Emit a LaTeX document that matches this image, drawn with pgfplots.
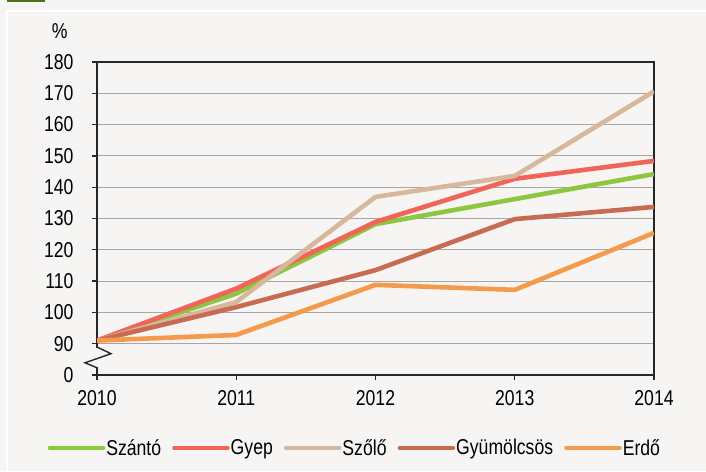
\documentclass[border=0pt]{standalone}
\usepackage{pgfplots}
\pgfplotsset{compat=1.18}
\usepackage{fontspec}
\setmainfont{Liberation Sans}[FakeStretch=0.82]
\definecolor{bg}{HTML}{F6F5F3}
\definecolor{topgreen}{HTML}{4B7319}
\definecolor{cSzanto}{HTML}{8DC63F}
\definecolor{cGyep}{HTML}{F0645A}
\definecolor{cSzolo}{HTML}{D8B89C}
\definecolor{cGyum}{HTML}{C86B53}
\definecolor{cErdo}{HTML}{F59A4B}
\definecolor{axc}{HTML}{262626}
\begin{document}
\begin{tikzpicture}[font=\fontsize{21.5}{25}\selectfont]
\fill[bg] (0pt,0pt) rectangle (706pt,471pt);
\useasboundingbox (0pt,0pt) rectangle (706pt,471pt);
\fill[topgreen] (7pt,469pt) rectangle (45pt,471pt);
\draw[white,line width=1.5pt] (7pt,0pt) -- (7pt,460pt) -- (706pt,460pt);
\begin{axis}[
  at={(97pt,96pt)}, anchor=south west, scale only axis,
  width=557pt, height=313pt,
  xmin=2010, xmax=2014, ymin=80, ymax=180,
  xtick={2010,2011,2012,2013,2014},
  xticklabels={2010,2011,2012,2013,2014},
  ytick={80,90,100,110,120,130,140,150,160,170,180},
  yticklabels={0,90,100,110,120,130,140,150,160,170,180},
  tick pos=left, tick align=outside, major tick length=5pt,
  ymajorgrids, grid style={draw=black!35, line width=0.9pt},
  axis line style={draw=axc, line width=1.5pt},
  tick style={draw=axc, line width=1.3pt},
  yticklabel style={xshift=-15pt},
  xticklabel style={yshift=-7pt},
  every axis plot/.append style={line width=4.6pt, line join=round},
  legend columns=5,
  legend style={at={(0.462,-0.233)}, anchor=center, draw=none, fill=none,
    /tikz/every even column/.append style={column sep=10pt},
    nodes={inner sep=1pt}},
  legend image code/.code={\draw[#1, line width=4.6pt, line cap=round] (0pt,0pt) -- (53pt,0pt);},
]
\addplot[cSzanto] coordinates {(2010,91) (2011,106) (2012,128.2) (2013,136.2) (2014,144.2)};
\addlegendentry{Szántó}
\addplot[cGyep] coordinates {(2010,91) (2011,107.6) (2012,128.9) (2013,142.7) (2014,148.4)};
\addlegendentry{Gyep}
\addplot[cSzolo] coordinates {(2010,91) (2011,103.3) (2012,136.9) (2013,143.6) (2014,170.6)};
\addlegendentry{Szőlő}
\addplot[cGyum] coordinates {(2010,91) (2011,101.7) (2012,113.5) (2013,129.8) (2014,133.7)};
\addlegendentry{Gyümölcsös}
\addplot[cErdo] coordinates {(2010,91) (2011,92.8) (2012,108.8) (2013,107.2) (2014,125.4)};
\addlegendentry{Erdő}
\end{axis}
\node[anchor=east] at (71pt,440pt) {\%};
\fill[bg] (94pt,103.5pt) rectangle (100pt,123pt);
\draw[axc,line width=1.4pt,line join=miter] (97pt,124pt) -- (111pt,117.3pt) -- (85pt,108.2pt) -- (97pt,103.2pt);
\end{tikzpicture}
\end{document}
